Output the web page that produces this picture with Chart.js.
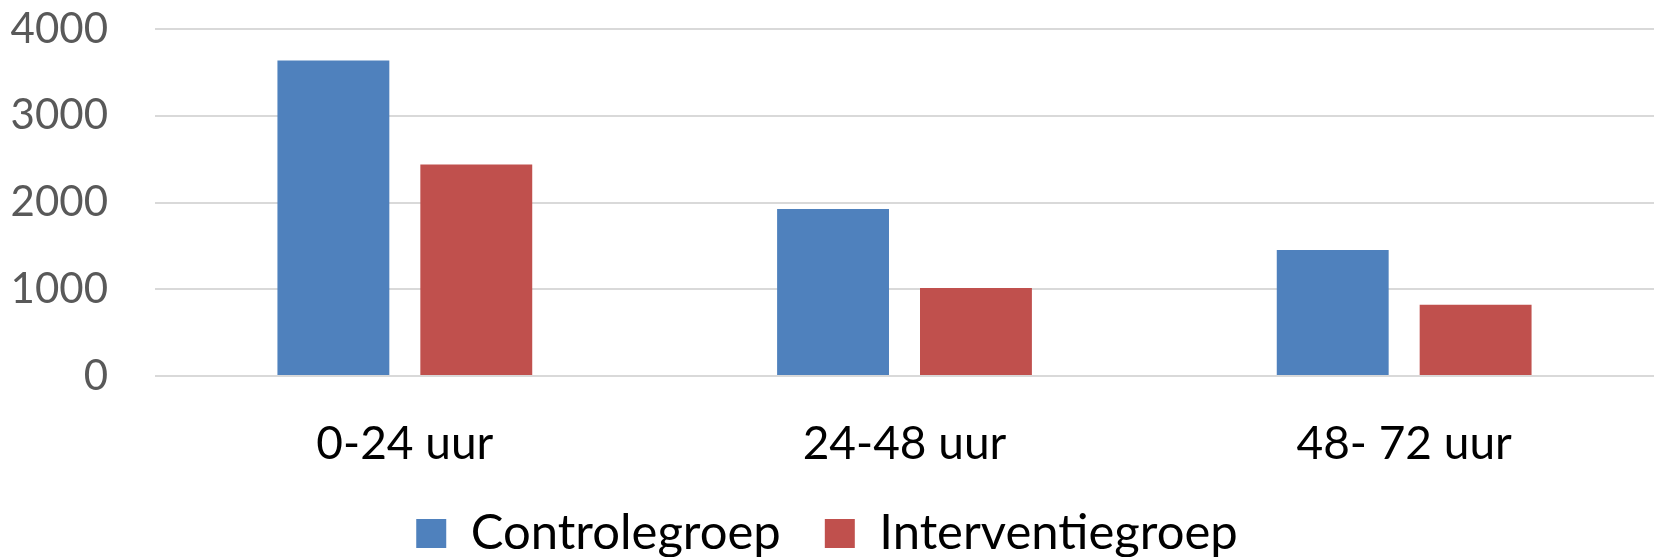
<!DOCTYPE html>
<html>
<head>
<meta charset="utf-8">
<script src="https://cdn.jsdelivr.net/npm/chart.js@4/dist/chart.umd.min.js"></script>
<style>
  html, body { margin: 0; padding: 0; background: #ffffff; }
  #wrap { width: 1654px; height: 557px; position: relative; }
</style>
</head>
<body>
<div id="wrap"><canvas id="chart"></canvas></div>
<script>
// Tijdvakken en aantallen per groep
const categories = ['0-24 uur', '24-48 uur', '48- 72 uur'];
const controlegroep = [3636, 1924, 1452];
const interventiegroep = [2438, 1014, 821];
const yTicks = [0, 1000, 2000, 3000, 4000];

const legendPadding = 44;

const ctx = document.getElementById('chart').getContext('2d');
new Chart(ctx, {
  type: 'bar',
  data: {
    labels: categories,
    datasets: [
      { label: 'Controlegroep', data: controlegroep, backgroundColor: '#4F81BD' },
      { label: 'Interventiegroep', data: interventiegroep, backgroundColor: '#C0504D' }
    ]
  },
  options: {
    responsive: true,
    maintainAspectRatio: false,
    animation: false,
    layout: { padding: { left: 0, right: 0, top: 29, bottom: 0 } },
    datasets: {
      bar: { categoryPercentage: 0.572, barPercentage: 0.783 }
    },
    scales: {
      x: {
        grid: { display: false, drawTicks: false },
        border: { display: false },
        ticks: {
          color: '#000000',
          font: { family: 'Lato', size: 46 },
          padding: 41,
          maxRotation: 0
        },
        afterFit: (axis) => { axis.height = 89; }
      },
      y: {
        min: 0,
        max: 4000,
        afterBuildTicks: (axis) => { axis.ticks = yTicks.map(v => ({ value: v })); },
        grid: { color: '#d9d9d9', lineWidth: 2, drawTicks: false },
        border: { display: false },
        ticks: {
          color: '#595959',
          font: { family: 'Lato', size: 42 },
          padding: 47,
          callback: (value) => String(value)
        },
        afterFit: (axis) => {
          // fixed axis width; keep the label gap from reserving extra space above the plot
          axis.width = 155;
          axis.paddingTop = 0;
          axis.paddingBottom = 0;
        }
      }
    },
    plugins: {
      tooltip: { enabled: false },
      legend: {
        position: 'bottom',
        maxHeight: legendPadding + 48,
        labels: {
          color: '#000000',
          font: { family: 'Lato', size: 49 },
          boxWidth: 30,
          boxHeight: 29,
          padding: legendPadding
        }
      }
    }
  }
});
</script>
</body>
</html>
